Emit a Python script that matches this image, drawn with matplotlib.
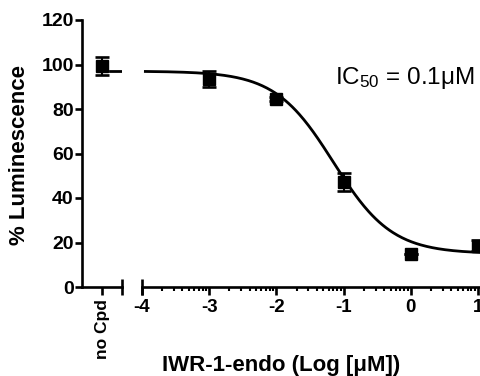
import numpy as np
import matplotlib
matplotlib.use("Agg")
import matplotlib.pyplot as plt

plt.rcParams['font.family'] = ['Liberation Sans', 'DejaVu Sans']
plt.rcParams['mathtext.fontset'] = 'custom'
plt.rcParams['mathtext.rm'] = 'Liberation Sans'
plt.rcParams['mathtext.it'] = 'Liberation Sans'

# data
ctrl_label = "no Cpd"
ctrl_value = 99.5
ctrl_err = 4.0
log_conc = [-3, -2, -1, 0, 1]
lum = [93.5, 84.5, 47.2, 15.0, 18.5]
lum_err = [3.5, 1.0, 4.0, 0.0, 2.5]
# fitted 4PL parameters
fit_top = 97.0
fit_bottom = 15.0
fit_logic50 = -1.15
fit_hill = 1.0
yticks = [0, 20, 40, 60, 80, 100, 120]
xticks = [-4, -3, -2, -1, 0, 1]

W, H = 480, 376
fig = plt.figure(figsize=(W / 100, H / 100), dpi=100)

y0 = (H - 287) / H
yh = 267 / H
lw = 1.9

# left segment
ax0 = fig.add_axes([82 / W, y0, 40 / W, yh])
# main segment
px_per_dec = 67.2
xmin, xmax = -4, 1.2
ax1 = fig.add_axes([142 / W, y0, (xmax - xmin) * px_per_dec / W, yh])

for ax in (ax0, ax1):
    ax.set_ylim(0, 120)
    ax.patch.set_alpha(0)
    for s in ('top', 'right'):
        ax.spines[s].set_visible(False)
    ax.spines['bottom'].set_linewidth(lw)
    ax.spines['left'].set_linewidth(lw)

ax0.set_xlim(0, 1)
ax0.set_yticks(yticks)
ax0.set_yticklabels([str(t) for t in yticks], fontsize=14, fontweight='bold')
ax0.tick_params(axis='y', length=5, width=lw, pad=1)
ax0.set_xticks([0.5])
ax0.set_xticklabels([ctrl_label], rotation=90, fontsize=12.5, fontweight='bold')
ax0.tick_params(axis='x', length=6, width=lw, pad=3)
ax0.plot([1], [0], marker='|', ms=12, mew=lw, color='black', clip_on=False)

ax0.errorbar([0.5], [ctrl_value], yerr=[ctrl_err], fmt='s', color='black',
             ms=8, capsize=5, capthick=lw, elinewidth=1.5, clip_on=False)
ax0.plot([0.7, 1.0], [fit_top, fit_top], color='black', lw=2)

ax1.spines['left'].set_visible(False)
ax1.set_xlim(xmin, xmax)
ax1.set_yticks([])
ax1.set_xticks(xticks)
ax1.set_xticklabels([str(t) for t in xticks], fontsize=13.5, fontweight='bold')
ax1.tick_params(axis='x', length=6, width=lw, pad=3)
minors = [np.log10(k) + d for d in range(-4, 1) for k in range(2, 10)]
ax1.set_xticks(minors, minor=True)
ax1.tick_params(axis='x', which='minor', length=3, width=1.5)
ax1.plot([-4], [0], marker='|', ms=12, mew=lw, color='black', clip_on=False)

xs = np.linspace(-3.95, xmax, 300)
ys = fit_bottom + (fit_top - fit_bottom) / (1 + 10 ** ((xs - fit_logic50) * fit_hill))
ax1.plot(xs, ys, color='black', lw=2)
ax1.errorbar(log_conc, lum, yerr=lum_err, fmt='s', color='black',
             ms=8, capsize=5, capthick=lw, elinewidth=1.5, clip_on=False)

fig.text(335 / W, (H - 84) / H, r"IC$_{50}$ = 0.1$\mu$M", fontsize=17.5,
         ha='left', va='baseline')

fig.text(20 / W, (H - 155) / H, "% Luminescence", fontsize=16, rotation=90,
         fontweight='bold', ha='center', va='center')

fig.text(281 / W, (H - 365) / H, "IWR-1-endo (Log [μM])", fontsize=16,
         fontweight='bold', ha='center', va='center')

fig.savefig("out.png", dpi=100)
